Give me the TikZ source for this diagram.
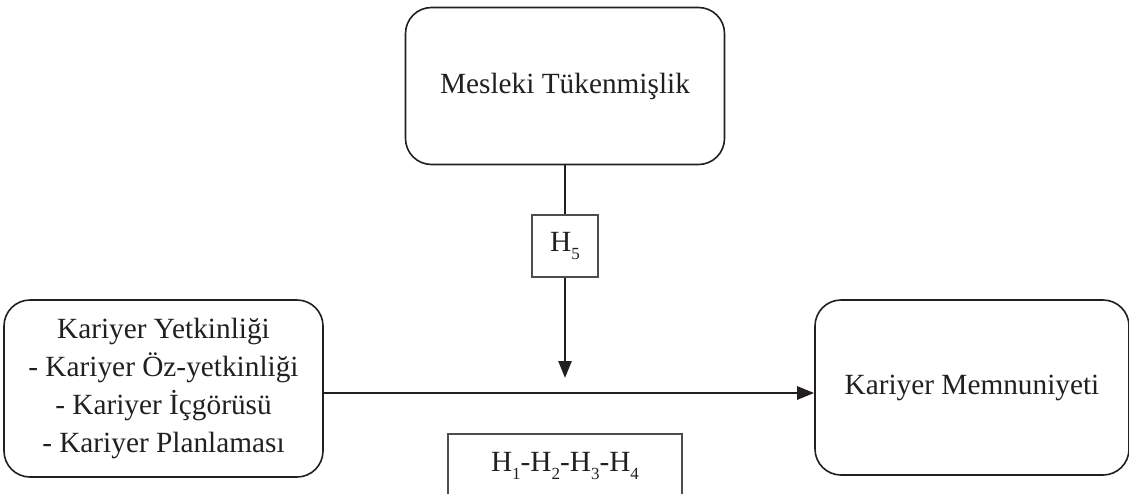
\documentclass[tikz,border=0pt]{standalone}
\usepackage{fontspec}
\setmainfont{Liberation Serif}
\usetikzlibrary{arrows.meta}
\definecolor{ink}{HTML}{231F20}
\newcommand{\hs}[1]{\raisebox{-0.6ex}{\fontsize{17}{17}\selectfont #1}}
\tikzset{
  rbox/.style={draw=ink, line width=1.6pt, rounded corners=26pt, inner sep=0pt, align=center, text=ink,
    font=\fontsize{29.3}{38}\selectfont},
  hbox/.style={draw=ink!80, line width=1.6pt, inner sep=0pt, text=ink, font=\fontsize{29.3}{32}\selectfont},
  conn/.style={draw=ink, line width=2.6pt},
  arr/.style={conn, -{Triangle[length=17pt,width=13pt]}}
}
\begin{document}
\begin{tikzpicture}[x=1pt,y=-1pt]
\useasboundingbox (0,0) rectangle (1129,493);
\node[rbox, minimum width=319pt, minimum height=157pt] (mt) at (565,86) {Mesleki Tükenmişlik};
\node[rbox, minimum width=319pt, minimum height=177pt] (ky) at (163.5,388.5) {Kariyer Yetkinliği\\- Kariyer Öz-yetkinliği\\- Kariyer İçgörüsü\\- Kariyer Planlaması};
\node[rbox, minimum width=314pt, minimum height=175pt] (km) at (972,387.5) {Kariyer Memnuniyeti};
\node[hbox, minimum width=66pt, minimum height=62pt] (h5) at (565,246) {H\hs{5}};
\node[hbox, minimum width=234pt, minimum height=80pt, anchor=north] (h14) at (565,433) {};
\node[text=ink, font=\fontsize{29.3}{32}\selectfont, inner sep=0pt] (h14t) at (565,466) {H\hs{1}-H\hs{2}-H\hs{3}-H\hs{4}};
\coordinate (tip) at (565,378);
\draw[conn] (mt.south) -- (h5.north);
\draw[arr] (h5.south) -- (tip);
\draw[arr] (ky.east |- 0,393) -- (km.west |- 0,393);
\end{tikzpicture}
\end{document}
